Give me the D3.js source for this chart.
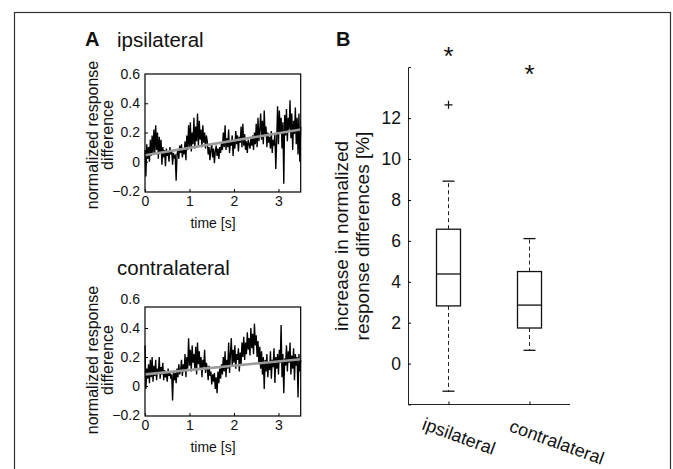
<!DOCTYPE html>
<html><head><meta charset="utf-8">
<script src="https://cdn.jsdelivr.net/npm/d3@7"></script>
<style>body{margin:0;background:#fff}svg{display:block;font-family:"Liberation Sans",Arial,sans-serif}</style>
</head><body>
<script>
// ---------- data ----------
const sampleStep = 0.02; // s
const ipsiTrace = [
0.08,-0.10,0.12,0.02,0.10,0.00,0.15,0.04,0.18,0.05,
0.22,0.06,0.25,0.08,0.20,0.02,0.17,0.06,0.15,-0.02,
0.10,0.03,0.08,-0.03,0.09,0.04,0.07,0.00,0.10,0.05,
0.08,-0.02,0.06,0.03,0.04,-0.13,0.05,0.08,0.02,0.11,
0.06,0.12,0.03,0.09,0.05,0.14,0.01,0.18,0.08,0.25,
0.10,0.27,0.07,0.20,0.12,0.30,0.09,0.24,0.14,0.33,
0.11,0.28,0.15,0.22,0.10,0.25,0.13,0.20,0.09,0.18,
0.14,0.05,0.10,0.01,0.08,0.12,0.03,0.09,-0.01,0.07,
0.11,0.04,0.09,0.02,0.10,0.06,0.13,0.08,0.20,0.10,
0.25,0.08,0.16,0.10,0.22,0.06,0.14,0.11,0.18,0.04,
0.15,0.09,0.21,0.12,0.18,0.07,0.17,0.13,0.24,0.10,
0.26,0.11,0.19,0.08,0.14,0.06,0.15,0.12,0.09,0.16,
0.11,0.18,0.08,0.20,0.12,0.26,0.10,0.30,0.14,0.22,
0.33,0.15,0.28,0.12,0.35,0.18,0.24,0.10,0.20,0.13,
0.17,0.09,0.21,0.06,0.15,0.11,0.19,-0.05,0.14,0.38,
0.12,0.35,0.20,0.30,0.09,0.27,-0.15,0.32,0.18,0.36,
0.14,0.30,0.22,0.42,0.16,0.33,0.08,0.28,0.19,0.37,
0.12,0.30,0.05,0.33,0.00,0.24];
const contraTrace = [
0.28,-0.02,0.12,0.05,0.15,0.02,0.18,0.06,0.20,0.03,
0.14,0.07,0.18,0.04,0.12,0.09,0.20,0.05,0.13,0.08,
0.16,0.04,0.11,0.06,0.09,0.03,0.12,0.07,0.10,0.05,
0.08,-0.10,0.10,0.04,0.09,0.02,0.12,0.06,0.15,0.08,
0.11,0.18,0.07,0.15,0.10,0.22,0.06,0.20,0.12,0.33,
0.14,0.25,0.10,0.28,0.16,0.22,0.12,0.27,0.08,0.30,
0.15,0.24,0.11,0.20,0.06,0.18,0.13,0.25,0.09,0.16,
0.12,0.04,0.14,0.07,0.10,0.01,0.08,0.03,0.09,-0.02,
0.06,-0.05,0.10,0.02,0.12,0.05,0.15,0.08,0.20,0.10,
0.24,0.06,0.18,0.12,0.30,0.09,0.22,0.33,0.14,0.25,
0.16,0.28,0.12,0.22,0.18,0.26,0.10,0.23,0.15,0.30,
0.20,0.34,0.18,0.30,0.22,0.37,0.25,0.33,0.21,0.40,
0.26,0.36,0.22,0.43,0.28,0.35,0.20,0.31,0.15,0.27,
0.12,0.24,0.08,0.20,-0.02,0.18,0.10,0.22,0.06,0.16,
0.11,0.24,0.05,0.18,0.13,0.26,0.02,0.20,0.12,0.22,
0.08,0.25,0.16,0.42,0.06,0.22,-0.05,0.19,0.14,0.28,
0.10,0.24,0.16,0.30,0.08,0.21,0.12,0.26,0.04,0.22,
0.14,0.20,-0.08,0.22,0.10,0.18];
const fitTimes = [0, 3.5];
const ipsiFit = [0.045, 0.22];
const contraFit = [0.08, 0.185];
const traceYTicks = [-0.2, 0, 0.2, 0.4, 0.6];
const traceXTicks = [0, 1, 2, 3];

const categories = ["ipsilateral", "contralateral"];
const whiskerLow = [-1.35, 0.65];
const q1 = [2.82, 1.74];
const median = [4.38, 2.86];
const q3 = [6.57, 4.50];
const whiskerHigh = [8.92, 6.11];
const outliers = [[12.65], []];
const starLevel = [15.2, 14.3];
const boxYTicks = [0, 2, 4, 6, 8, 10, 12];

// ---------- drawing ----------
const W = 673, H = 469;
const svg = d3.select("body").append("svg").attr("width", W).attr("height", H);
svg.append("rect").attr("width", W).attr("height", H).attr("fill", "#fff");
// outer frame
svg.append("rect").attr("x", 14.5).attr("y", 12.5).attr("width", 656).attr("height", 470)
  .attr("fill", "none").attr("stroke", "#333").attr("stroke-width", 1.2);

const fmt = d => d < 0 ? "\u2212" + Math.abs(d) : String(d);

function tracePanel(opt) {
  const x = d3.scaleLinear().domain([0, 3.5]).range([145, 300.7]);
  const y = d3.scaleLinear().domain([-0.2, 0.6]).range(opt.yRange);
  const g = svg.append("g");
  const pts = opt.values.map((v, i) => [i * sampleStep, v]);
  g.append("path").datum(pts)
    .attr("d", d3.line().x(d => x(d[0])).y(d => y(d[1])))
    .attr("fill", "none").attr("stroke", "#000").attr("stroke-width", 1.35);
  g.append("path").datum(fitTimes.map((t, i) => [t, opt.fit[i]]))
    .attr("d", d3.line().x(d => x(d[0])).y(d => y(d[1])))
    .attr("fill", "none").attr("stroke", "#9a9a9a").attr("stroke-width", 2.6);
  // box
  g.append("rect").attr("x", x(0)).attr("y", opt.boxTop)
    .attr("width", x(3.5) - x(0)).attr("height", opt.boxBottom - opt.boxTop)
    .attr("fill", "none").attr("stroke", "#000").attr("stroke-width", 1.2);
  // ticks
  const ax = d3.axisBottom(x).tickValues(traceXTicks).tickSize(-3).tickPadding(6).tickFormat(d3.format("d"));
  const gx = g.append("g").attr("transform", `translate(0,${opt.boxBottom})`).call(ax);
  gx.select(".domain").remove();
  gx.selectAll("text").attr("font-size", 14).attr("fill", "#111").attr("dy", "0.55em");
  const ay = d3.axisLeft(y).tickValues(traceYTicks).tickSize(-3).tickPadding(5).tickFormat(fmt);
  const gy = g.append("g").attr("transform", `translate(${x(0)},0)`).call(ay);
  gy.select(".domain").remove();
  gy.selectAll("line").filter(d => d === 0.6 || d === -0.2).remove();
  gy.selectAll("text").attr("font-size", 14).attr("fill", "#111");
  g.append("text").attr("x", 213).attr("y", opt.xLabelY).attr("text-anchor", "middle")
    .attr("font-size", 14).attr("fill", "#111").text("time [s]");
  const lab = g.append("text").attr("transform", `translate(98,${opt.yLabelC}) rotate(-90)`)
    .attr("text-anchor", "middle").attr("font-size", 16).attr("fill", "#111");
  lab.append("tspan").attr("x", 0).attr("y", 0).text("normalized response");
  lab.append("tspan").attr("x", 0).attr("y", 15).text("difference");
  g.append("text").attr("x", 117).attr("y", opt.titleY).attr("font-size", 20.5).attr("fill", "#111").text(opt.title);
}

tracePanel({values: ipsiTrace, fit: ipsiFit, yRange: [191, 74], boxTop: 74, boxBottom: 192,
  xLabelY: 228, yLabelC: 135, title: "ipsilateral", titleY: 47});
tracePanel({values: contraTrace, fit: contraFit, yRange: [415, 299], boxTop: 307, boxBottom: 416,
  xLabelY: 452, yLabelC: 360, title: "contralateral", titleY: 275});

svg.append("text").attr("x", 85).attr("y", 46).attr("font-size", 20).attr("font-weight", "bold").attr("fill", "#111").text("A");
svg.append("text").attr("x", 336).attr("y", 46).attr("font-size", 20).attr("font-weight", "bold").attr("fill", "#111").text("B");

// ---------- box plot ----------
const bx = d3.scalePoint().domain(categories).range([408, 570]).padding(0.5);
const by = d3.scaleLinear().domain([-2, 14.5]).range([404.5, 67]);
const gb = svg.append("g");
const ayB = d3.axisLeft(by).tickValues(boxYTicks).tickSize(-3).tickPadding(7).tickFormat(d3.format("d"));
const gyB = gb.append("g").attr("transform", "translate(408,0)").call(ayB);
gyB.select(".domain").attr("stroke", "#222");
gyB.selectAll("text").attr("font-size", 17.5).attr("fill", "#111");
const axB = d3.axisBottom(bx).tickSize(-3).tickFormat("");
const gxB = gb.append("g").attr("transform", "translate(0,404.5)").call(axB);
gxB.select(".domain").attr("d", "M408,0H570").attr("stroke", "#222");
const BW = 24, CAP = 12;
categories.forEach((c, i) => {
  const cx = bx(c);
  gb.append("line").attr("x1", cx).attr("x2", cx).attr("y1", by(q3[i])).attr("y2", by(whiskerHigh[i]))
    .attr("stroke", "#222").attr("stroke-dasharray", "4,3");
  gb.append("line").attr("x1", cx).attr("x2", cx).attr("y1", by(q1[i])).attr("y2", by(whiskerLow[i]))
    .attr("stroke", "#222").attr("stroke-dasharray", "4,3");
  [whiskerHigh[i], whiskerLow[i]].forEach(v => gb.append("line")
    .attr("x1", cx - CAP / 2).attr("x2", cx + CAP / 2).attr("y1", by(v)).attr("y2", by(v))
    .attr("stroke", "#111").attr("stroke-width", 1.3));
  gb.append("rect").attr("x", cx - BW / 2).attr("y", by(q3[i])).attr("width", BW)
    .attr("height", by(q1[i]) - by(q3[i])).attr("fill", "#fff").attr("stroke", "#111").attr("stroke-width", 1.3);
  gb.append("line").attr("x1", cx - BW / 2).attr("x2", cx + BW / 2).attr("y1", by(median[i])).attr("y2", by(median[i]))
    .attr("stroke", "#111").attr("stroke-width", 1.3);
  outliers[i].forEach(v => {
    gb.append("path").attr("d", `M${cx - 4},${by(v)}H${cx + 4}M${cx},${by(v) - 4}V${by(v) + 4}`)
      .attr("stroke", "#111").attr("stroke-width", 1.2);
  });
  gb.append("text").attr("x", cx).attr("y", by(starLevel[i]) + 12).attr("text-anchor", "middle")
    .attr("font-size", 26).attr("fill", "#111").text("*");
});
// rotated category labels
const labCenters = [[459, 436], [557, 442]];
categories.forEach((c, i) => {
  gb.append("text").attr("transform", `translate(${labCenters[i][0]},${labCenters[i][1]}) rotate(20)`)
    .attr("text-anchor", "middle").attr("dy", "0.35em").attr("font-size", 18).attr("fill", "#111").text(c);
});
const yl = gb.append("text").attr("transform", "translate(348,236) rotate(-90)")
  .attr("text-anchor", "middle").attr("font-size", 19).attr("fill", "#111");
yl.append("tspan").attr("x", 0).attr("y", 0).text("increase in normalized");
yl.append("tspan").attr("x", 0).attr("y", 21).text("response differences [%]");
</script>
</body></html>
